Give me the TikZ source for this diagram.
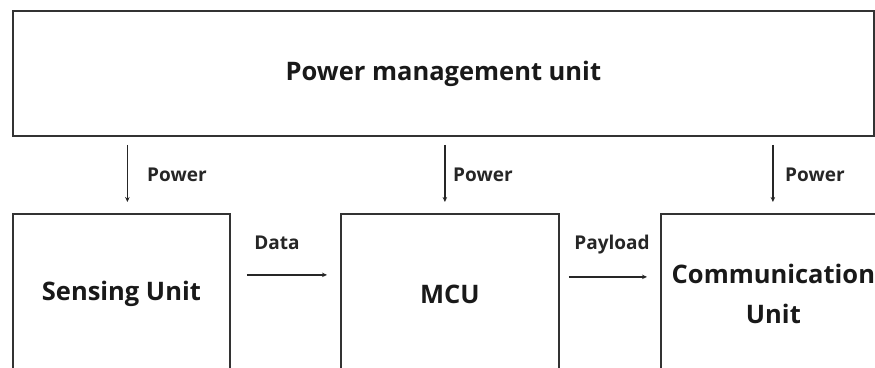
\documentclass[tikz,border=0pt]{standalone}
\usepackage{fontspec}
\setmainfont{Open Sans}
\usetikzlibrary{arrows.meta}
\begin{document}
\begin{tikzpicture}[x=1pt,y=-1pt,
  box/.style={draw=black!80,line width=1.8pt,anchor=north west,inner sep=0pt,align=center},
  arr/.style={draw=black!85,line width=1.2pt,-{Stealth[length=5pt,width=4.5pt]}},
  lbl/.style={font=\fontsize{19}{22}\selectfont\bfseries,text=black!85,inner sep=0pt},
  big/.style={font=\fontsize{25.5}{40}\selectfont\bfseries,text=black!90}]
\clip (0,0) rectangle (875,367);
\fill[white] (0,0) rectangle (875,367);
\node[box,minimum width=861pt,minimum height=125pt,font=\fontsize{25.5}{30}\selectfont\bfseries,text=black!90] (pmu) at (12,10) {Power management unit};
\node[box,minimum width=217pt,minimum height=160pt,big] (sense) at (12,213) {Sensing Unit};
\node[box,minimum width=218pt,minimum height=160pt,big] (mcu) at (340,213) {MCU};
\node[box,minimum width=225pt,minimum height=160pt,big] (comm) at (660,213) {Communication\\Unit};
\draw[arr,shorten <=8pt,shorten >=11pt] ([xshift=6pt]sense.north |- pmu.south) -- ([xshift=6pt]sense.north);
\draw[arr,shorten <=8pt,shorten >=11pt] ([xshift=-5pt]mcu.north |- pmu.south) -- ([xshift=-5pt]mcu.north);
\draw[arr,shorten <=8pt,shorten >=11pt] ([xshift=-0.5pt]comm.north |- pmu.south) -- ([xshift=-0.5pt]comm.north);
\node[lbl,anchor=west] (pw1) at (147,175) {Power};
\node[lbl,anchor=west] (pw2) at (453,175) {Power};
\node[lbl,anchor=west] (pw3) at (785,175) {Power};
\draw[arr,shorten <=16pt,shorten >=13pt] ([yshift=19pt]sense.east) -- ([yshift=19pt]mcu.west);
\draw[arr,shorten <=9pt,shorten >=13pt] ([yshift=17pt]mcu.east) -- ([yshift=17pt]comm.west);
\node[lbl] (data) at (277,243) {Data};
\node[lbl] (pay) at (612,245) {Payload};
\end{tikzpicture}
\end{document}
